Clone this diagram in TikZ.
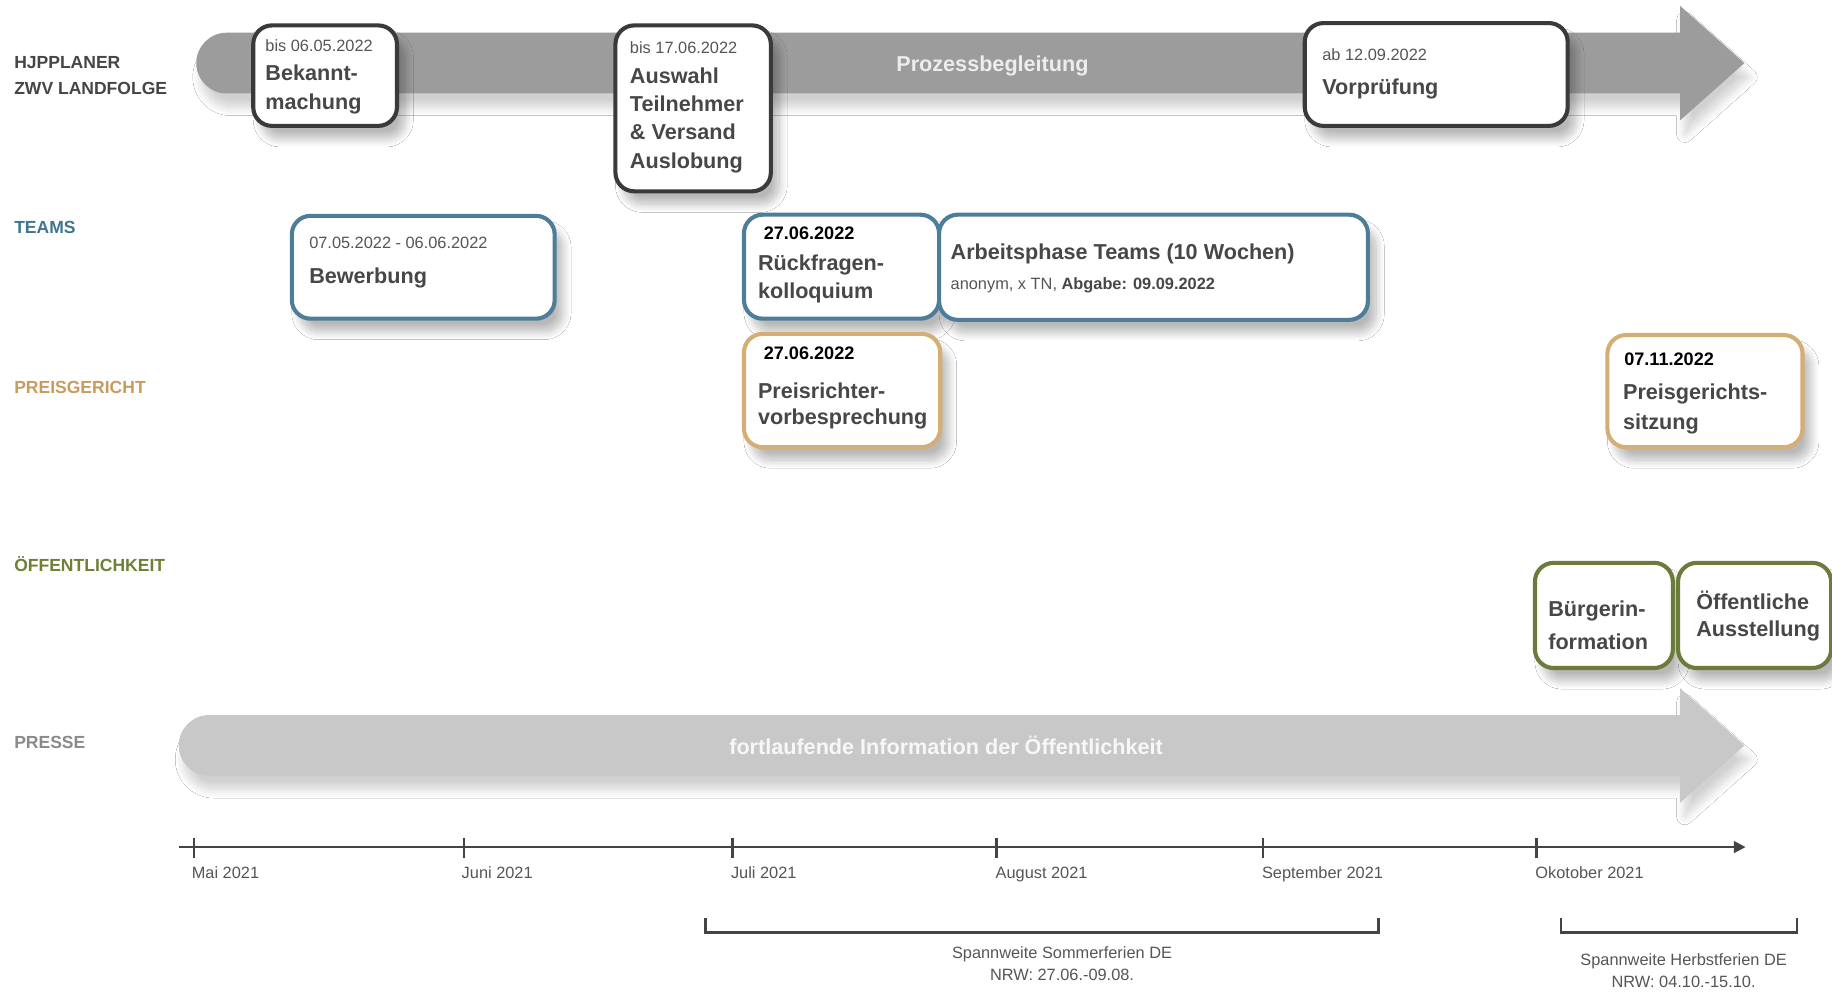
\documentclass[tikz,border=0pt]{standalone}
\usepackage{fontspec}
\setmainfont{Liberation Sans}
\usetikzlibrary{shadows.blur,arrows.meta}
\definecolor{txt}{HTML}{474747}
\definecolor{smalltxt}{HTML}{555555}
\definecolor{darkb}{HTML}{3A3A3A}
\definecolor{blueb}{HTML}{4E7D99}
\definecolor{tanb}{HTML}{D4AE74}
\definecolor{oliveb}{HTML}{6C7B3B}
\definecolor{lblue}{HTML}{3E7590}
\definecolor{ltan}{HTML}{C89B5E}
\definecolor{lolive}{HTML}{6F7F35}
\definecolor{lgray}{HTML}{8A8A8A}
\definecolor{ldark}{HTML}{454545}
\definecolor{arrA}{HTML}{9C9C9C}
\definecolor{arrB}{HTML}{C8C8C8}
\definecolor{arrAtxt}{HTML}{EDEDED}
\definecolor{arrBtxt}{HTML}{F7F7F7}
\definecolor{axisc}{HTML}{444444}
\tikzset{
  evbox/.style={draw=#1, line width=3.5pt, rounded corners=16pt, fill=white,
    anchor=north west, inner sep=0pt,
    blur shadow={shadow xshift=7pt, shadow yshift=-11pt, shadow blur radius=7pt, shadow opacity=28, shadow blur steps=12}},
  bigt/.style={anchor=base west, inner sep=0pt, text=txt, font=\bfseries\fontsize{18.5}{22}\selectfont},
  smallt/.style={anchor=base west, inner sep=0pt, text=smalltxt, font=\fontsize{14}{17}\selectfont},
  datet/.style={anchor=base west, inner sep=0pt, text=black, font=\bfseries\fontsize{15.5}{18}\selectfont},
  lanet/.style={anchor=base west, inner sep=0pt, font=\bfseries\fontsize{15}{18}\selectfont},
  arrtxt/.style={anchor=base west, inner sep=0pt, font=\bfseries\fontsize{18.5}{22}\selectfont},
  axisline/.style={draw=axisc, line width=2pt},
  bracketline/.style={draw=axisc, line width=2.5pt},
  ctrt/.style={anchor=base, inner sep=0pt, text=smalltxt, font=\fontsize{14}{17}\selectfont},
  arrshadow/.style={blur shadow={shadow xshift=4pt, shadow yshift=-12pt, shadow blur radius=7pt, shadow opacity=18, shadow blur steps=12}}
}
\begin{document}
\begin{tikzpicture}[x=1pt,y=-1pt]
\useasboundingbox (0,0) rectangle (1568,850);
\fill[white] (0,0) rectangle (1568,850);

% lane labels
\node[lanet, text=ldark] (l1a) at (12,58.5) {HJPPLANER};
\node[lanet, text=ldark] (l1b) at (12,81.3) {ZWV LANDFOLGE};
\node[lanet, text=lblue] (l2) at (12,199.7) {TEAMS};
\node[lanet, text=ltan] (l3) at (12,336.6) {PREISGERICHT};
\node[lanet, text=lolive] (l4) at (12,489.3) {ÖFFENTLICHKEIT};
\node[lanet, text=lgray] (l5) at (12,640.5) {PRESSE};

% top arrow
\path[fill=arrA, arrshadow] (1438,28) -- (1438,5) -- (1493,54) -- (1438,103) -- (1438,80) -- (194,80) arc[start angle=90,end angle=270,radius=26] -- cycle;
\node[arrtxt, text=arrAtxt] (proz) at (767,61) {Prozessbegleitung};

% press arrow
\path[fill=arrB, arrshadow] (1438,612) -- (1438,589) -- (1493,638) -- (1438,687) -- (1438,664) -- (179,664) arc[start angle=90,end angle=270,radius=26] -- cycle;
\node[arrtxt, text=arrBtxt] (fort) at (624,646) {fortlaufende Information der Öffentlichkeit};

% HJPPLANER boxes
\node[evbox=darkb, minimum width=123pt, minimum height=86pt] (b1) at (215,20) {};
\node[smallt] (b1a) at (227,44) {bis 06.05.2022};
\node[bigt] (b1b) at (227,68.5) {Bekannt-};
\node[bigt] (b1c) at (227,93.6) {machung};

\node[evbox=darkb, minimum width=133pt, minimum height=142pt] (b2) at (525,20) {};
\node[smallt] (b2a) at (539,46) {bis 17.06.2022};
\node[bigt] (b2b) at (539,71.3) {Auswahl};
\node[bigt] (b2c) at (539,95.6) {Teilnehmer};
\node[bigt] (b2d) at (539,119.8) {\& Versand};
\node[bigt] (b2e) at (539,144) {Auslobung};

\node[evbox=darkb, minimum width=225pt, minimum height=88pt] (b3) at (1115,18) {};
\node[smallt] (b3a) at (1131.6,51.4) {ab 12.09.2022};
\node[bigt] (b3b) at (1131.6,80.5) {Vorprüfung};

% TEAMS boxes
\node[evbox=blueb, minimum width=225pt, minimum height=88pt] (t1) at (248,183) {};
\node[smallt] (t1a) at (264.5,212.5) {07.05.2022 - 06.06.2022};
\node[bigt] (t1b) at (264.5,242.5) {Bewerbung};

\node[evbox=blueb, minimum width=167pt, minimum height=89pt] (t2) at (635,182) {};
\node[datet] (t2a) at (653.5,204.8) {27.06.2022};
\node[bigt] (t2b) at (648.6,231.7) {Rückfragen-};
\node[bigt] (t2c) at (648.6,255.3) {kolloquium};

\node[evbox=blueb, minimum width=367pt, minimum height=90pt] (t3) at (802,182) {};
\node[bigt] (t3a) at (813.5,222) {Arbeitsphase Teams (10 Wochen)};
\node[smallt] (t3b) at (813.5,247.6) {anonym, x TN, \textcolor{txt}{\bfseries Abgabe: 09.09.2022}};

% PREISGERICHT boxes
\node[evbox=tanb, minimum width=168pt, minimum height=97pt] (p1) at (635,284) {};
\node[datet] (p1a) at (653.5,307.5) {27.06.2022};
\node[bigt] (p1b) at (648.6,341) {Preisrichter-};
\node[bigt] (p1c) at (648.6,363.7) {vorbesprechung};

\node[evbox=tanb, minimum width=167pt, minimum height=96pt] (p2) at (1374,285) {};
\node[datet] (p2a) at (1390,313) {07.11.2022};
\node[bigt] (p2b) at (1389,342.3) {Preisgerichts-};
\node[bigt] (p2c) at (1389,368) {sitzung};

% OEFFENTLICHKEIT boxes
\node[evbox=oliveb, minimum width=118pt, minimum height=90pt] (o1) at (1312,480) {};
\node[bigt] (o1a) at (1325,527.8) {Bürgerin-};
\node[bigt] (o1b) at (1325,556.3) {formation};

\node[evbox=oliveb, minimum width=131pt, minimum height=90pt] (o2) at (1434.5,480) {};
\node[bigt] (o2a) at (1451.6,521.5) {Öffentliche};
\node[bigt] (o2b) at (1451.6,545) {Ausstellung};

% time axis
\coordinate (ax0) at (153,725);
\coordinate (ax1) at (1494,725);
\draw[axisline, -{Triangle[length=10pt,width=10pt]}] (ax0) -- (ax1);
\foreach \x in {166,397,627,853,1081,1315} {
  \draw[axisline] (\x,717) -- (\x,734);
}
\node[smallt] (m1) at (164,751.7) {Mai 2021};
\node[smallt] (m2) at (395,751.7) {Juni 2021};
\node[smallt] (m3) at (625.5,751.7) {Juli 2021};
\node[smallt] (m4) at (852,751.7) {August 2021};
\node[smallt] (m5) at (1080,751.7) {September 2021};
\node[smallt] (m6) at (1314,751.7) {Okotober 2021};

% holiday brackets
\coordinate (s0) at (604,786);
\coordinate (s1) at (1180,786);
\draw[bracketline] (s0) -- ++(0,12) -| (s1);
\node[ctrt] (s2) at (909,820) {Spannweite Sommerferien DE};
\node[ctrt] (s3) at (909,839) {NRW: 27.06.-09.08.};

\coordinate (h0) at (1336,786);
\coordinate (h1) at (1538,786);
\draw[bracketline] (h0) -- ++(0,12) -| (h1);
\node[ctrt] (h2) at (1441,826) {Spannweite Herbstferien DE};
\node[ctrt] (h3) at (1441,845) {NRW: 04.10.-15.10.};
\end{tikzpicture}
\end{document}
